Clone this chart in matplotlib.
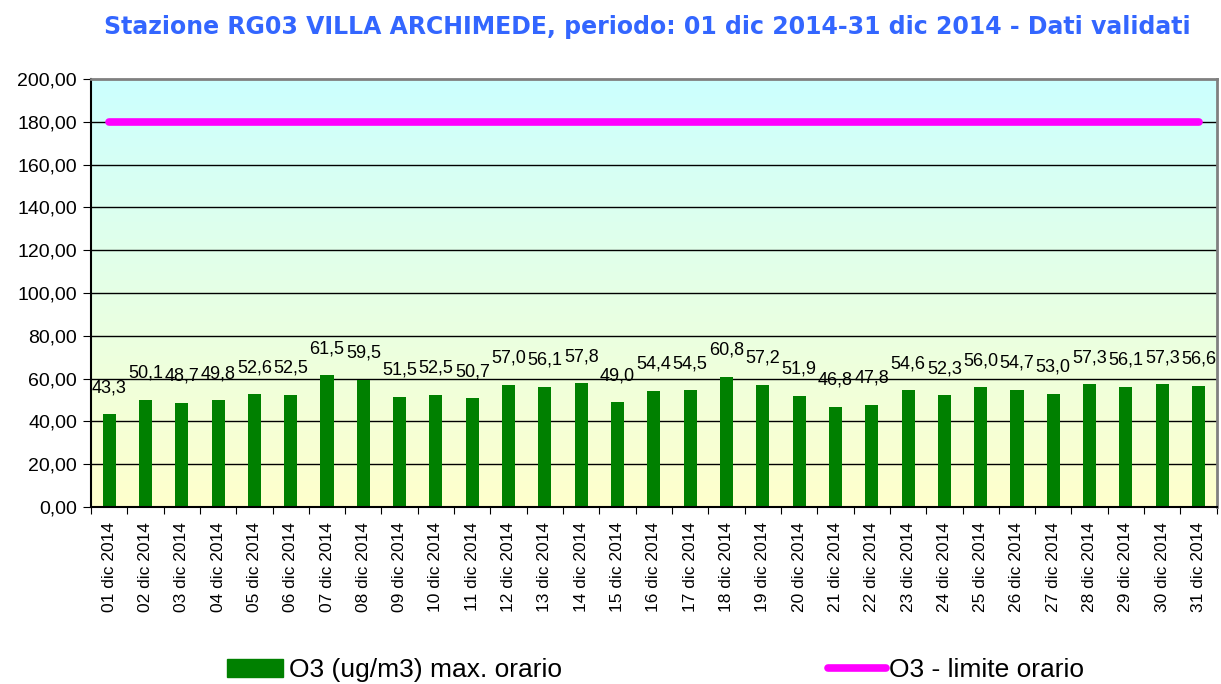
import numpy as np
import matplotlib
matplotlib.use("Agg")
import matplotlib.pyplot as plt
from matplotlib.colors import LinearSegmentedColormap
from matplotlib.patches import Patch
from matplotlib.lines import Line2D

plt.rcParams['font.family'] = ['Liberation Sans', 'DejaVu Sans']

# data
days = [f"{d:02d} dic 2014" for d in range(1, 32)]
o3_max = [43.3, 50.1, 48.7, 49.8, 52.6, 52.5, 61.5, 59.5, 51.5, 52.5,
          50.7, 57.0, 56.1, 57.8, 49.0, 54.4, 54.5, 60.8, 57.2, 51.9,
          46.8, 47.8, 54.6, 52.3, 56.0, 54.7, 53.0, 57.3, 56.1, 57.3, 56.6]
limite = [180.0] * len(days)
y_ticks = [0, 20, 40, 60, 80, 100, 120, 140, 160, 180, 200]

fig = plt.figure(figsize=(12.21, 6.84), dpi=100)
ax = fig.add_axes([0.0745, 0.2588, 0.922, 0.6257])

x = np.arange(len(days))
ax.set_xlim(-0.5, len(days) - 0.5)
ax.set_ylim(0, 200)

# background gradient cyan -> light yellow
cmap = LinearSegmentedColormap.from_list('bg', ['#ffffcc', '#ccffff'])
grad = np.linspace(0, 1, 256).reshape(-1, 1)
ax.imshow(grad, cmap=cmap, aspect='auto', origin='lower',
          extent=[-0.5, len(days) - 0.5, 0, 200], zorder=0)

for t in y_ticks[1:-1]:
    ax.axhline(t, color='black', lw=1, zorder=1)

ax.bar(x, o3_max, width=0.36, color='#008000', zorder=2)
ax.plot(x, limite, color='#ff00ff', lw=5.5, solid_capstyle='round', zorder=3)

# value labels above the bars
for xi, v in zip(x, o3_max):
    ax.annotate(f"{v:.1f}".replace('.', ','), (xi, v), xytext=(0, 13),
                textcoords='offset points', ha='center', va='bottom',
                fontsize=13, zorder=4)

ax.set_yticks(y_ticks)
ax.set_yticklabels([f"{t:.2f}".replace('.', ',') for t in y_ticks], fontsize=14)
ax.set_xticks(np.arange(len(days) + 1) - 0.5, minor=False)
ax.set_xticklabels([])
ax.set_xticks(x, minor=True)
ax.set_xticklabels(days, minor=True, rotation=90, fontsize=12.5)
ax.tick_params(axis='x', which='minor', length=0, pad=11)
ax.tick_params(axis='x', which='major', length=5)
ax.tick_params(axis='y', length=6, pad=4)

ax.spines['top'].set_color('#808080')
ax.spines['right'].set_color('#808080')
ax.spines['top'].set_linewidth(2)
ax.spines['right'].set_linewidth(2)
ax.spines['left'].set_linewidth(1.5)
ax.spines['bottom'].set_linewidth(1.5)

fig.text(0.53, 0.96, "Stazione RG03 VILLA ARCHIMEDE, periodo: 01 dic 2014-31 dic 2014 - Dati validati",
         ha='center', va='center', fontsize=17, fontweight='bold', color='#3366ff',
         family='DejaVu Sans')

fig.legend([Patch(color='#008000')], ['O3 (ug/m3) max. orario'],
           loc='center left', bbox_to_anchor=(0.186, 0.02), frameon=False,
           fontsize=19, handlelength=2.1, handletextpad=0.25,
           borderpad=0, borderaxespad=0)
fig.legend([Line2D([], [], color='#ff00ff', lw=5.5, solid_capstyle='round')],
           ['O3 - limite orario'],
           loc='center left', bbox_to_anchor=(0.678, 0.02), frameon=False,
           fontsize=19, handlelength=2.2, handletextpad=0.1,
           borderpad=0, borderaxespad=0)

fig.savefig('out.png', dpi=100)
